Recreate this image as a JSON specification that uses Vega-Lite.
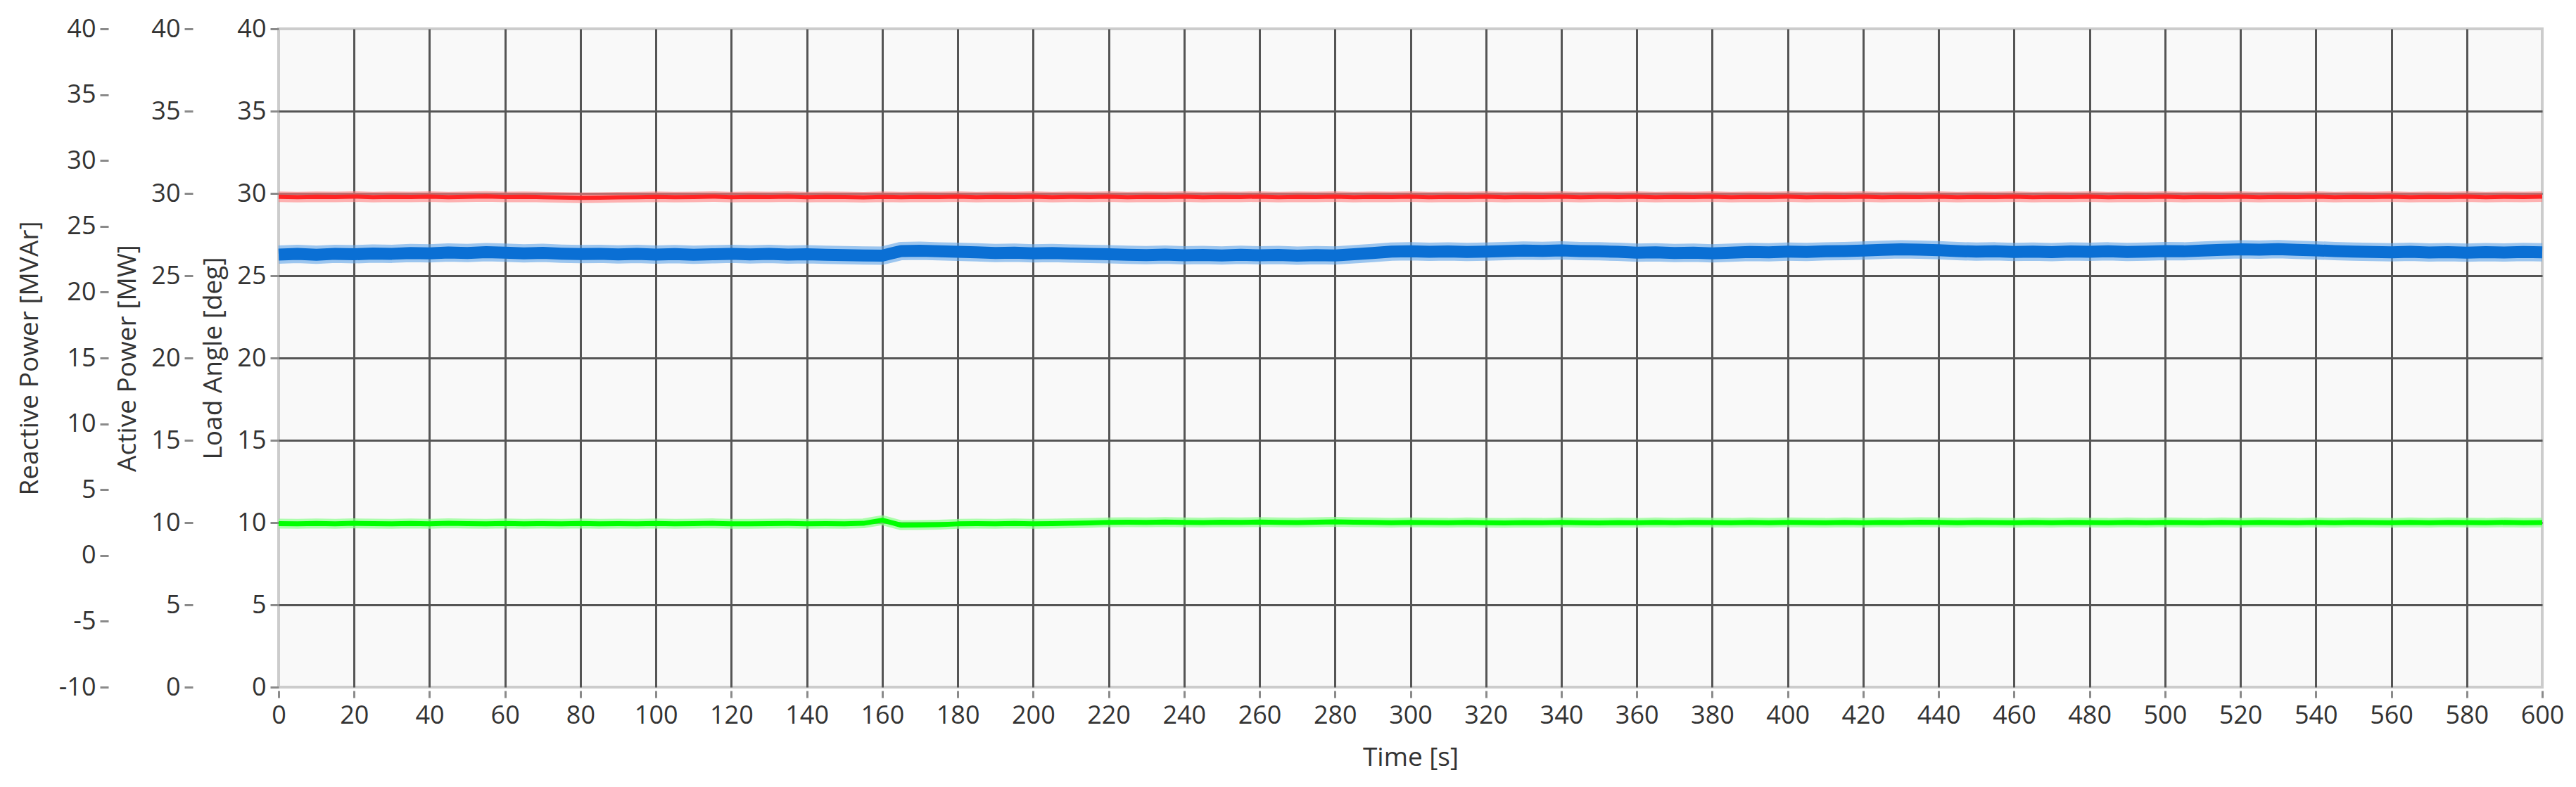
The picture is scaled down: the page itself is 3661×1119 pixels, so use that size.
{
  "$schema": "https://vega.github.io/schema/vega-lite/v6.json",
  "width": 3217,
  "height": 936,
  "autosize": {"type": "none"},
  "padding": {"left": 396, "top": 41, "right": 48, "bottom": 142},
  "background": "white",
  "config": {
    "view": {"fill": "#f9f9f9", "stroke": "#cccccc", "strokeWidth": 4},
    "axis": {
      "labelFont": "Open Sans",
      "titleFont": "Open Sans",
      "labelFontSize": 36,
      "titleFontSize": 37,
      "labelColor": "#333333",
      "titleColor": "#333333",
      "titleFontWeight": "normal",
      "tickColor": "#8a8a8a",
      "tickWidth": 3,
      "tickSize": 12,
      "domain": false,
      "labelFlush": false,
      "labelOverlap": false,
      "labelExpr": "datum.value + ''"
    },
    "line": {"strokeCap": "butt", "strokeJoin": "round"}
  },
  "data": {
    "values": [
      {"t": 0, "angle": 29.80, "active": 26.28, "reactive": 2.42},
      {"t": 5, "angle": 29.78, "active": 26.32, "reactive": 2.40},
      {"t": 10, "angle": 29.80, "active": 26.27, "reactive": 2.43},
      {"t": 15, "angle": 29.79, "active": 26.33, "reactive": 2.41},
      {"t": 20, "angle": 29.81, "active": 26.30, "reactive": 2.44},
      {"t": 25, "angle": 29.78, "active": 26.35, "reactive": 2.42},
      {"t": 30, "angle": 29.80, "active": 26.33, "reactive": 2.40},
      {"t": 35, "angle": 29.79, "active": 26.38, "reactive": 2.43},
      {"t": 40, "angle": 29.81, "active": 26.36, "reactive": 2.41},
      {"t": 45, "angle": 29.78, "active": 26.41, "reactive": 2.44},
      {"t": 50, "angle": 29.80, "active": 26.38, "reactive": 2.42},
      {"t": 55, "angle": 29.82, "active": 26.43, "reactive": 2.40},
      {"t": 60, "angle": 29.79, "active": 26.40, "reactive": 2.43},
      {"t": 65, "angle": 29.80, "active": 26.36, "reactive": 2.41},
      {"t": 70, "angle": 29.78, "active": 26.39, "reactive": 2.42},
      {"t": 75, "angle": 29.75, "active": 26.34, "reactive": 2.40},
      {"t": 80, "angle": 29.73, "active": 26.31, "reactive": 2.43},
      {"t": 85, "angle": 29.74, "active": 26.33, "reactive": 2.41},
      {"t": 90, "angle": 29.77, "active": 26.29, "reactive": 2.42},
      {"t": 95, "angle": 29.78, "active": 26.32, "reactive": 2.40},
      {"t": 100, "angle": 29.80, "active": 26.28, "reactive": 2.43},
      {"t": 105, "angle": 29.78, "active": 26.31, "reactive": 2.41},
      {"t": 110, "angle": 29.79, "active": 26.27, "reactive": 2.42},
      {"t": 115, "angle": 29.81, "active": 26.30, "reactive": 2.44},
      {"t": 120, "angle": 29.78, "active": 26.33, "reactive": 2.41},
      {"t": 125, "angle": 29.80, "active": 26.29, "reactive": 2.40},
      {"t": 130, "angle": 29.79, "active": 26.32, "reactive": 2.42},
      {"t": 135, "angle": 29.81, "active": 26.28, "reactive": 2.43},
      {"t": 140, "angle": 29.78, "active": 26.30, "reactive": 2.41},
      {"t": 145, "angle": 29.80, "active": 26.27, "reactive": 2.42},
      {"t": 150, "angle": 29.79, "active": 26.25, "reactive": 2.40},
      {"t": 155, "angle": 29.77, "active": 26.23, "reactive": 2.44},
      {"t": 160, "angle": 29.80, "active": 26.22, "reactive": 2.68},
      {"t": 165, "angle": 29.78, "active": 26.50, "reactive": 2.30},
      {"t": 170, "angle": 29.80, "active": 26.52, "reactive": 2.31},
      {"t": 175, "angle": 29.79, "active": 26.48, "reactive": 2.34},
      {"t": 180, "angle": 29.81, "active": 26.45, "reactive": 2.40},
      {"t": 185, "angle": 29.78, "active": 26.42, "reactive": 2.42},
      {"t": 190, "angle": 29.80, "active": 26.38, "reactive": 2.41},
      {"t": 195, "angle": 29.79, "active": 26.40, "reactive": 2.43},
      {"t": 200, "angle": 29.81, "active": 26.36, "reactive": 2.40},
      {"t": 205, "angle": 29.78, "active": 26.38, "reactive": 2.42},
      {"t": 210, "angle": 29.80, "active": 26.35, "reactive": 2.44},
      {"t": 215, "angle": 29.79, "active": 26.33, "reactive": 2.47},
      {"t": 220, "angle": 29.81, "active": 26.30, "reactive": 2.52},
      {"t": 225, "angle": 29.78, "active": 26.27, "reactive": 2.53},
      {"t": 230, "angle": 29.80, "active": 26.25, "reactive": 2.51},
      {"t": 235, "angle": 29.79, "active": 26.28, "reactive": 2.54},
      {"t": 240, "angle": 29.81, "active": 26.24, "reactive": 2.52},
      {"t": 245, "angle": 29.78, "active": 26.26, "reactive": 2.50},
      {"t": 250, "angle": 29.80, "active": 26.23, "reactive": 2.53},
      {"t": 255, "angle": 29.79, "active": 26.27, "reactive": 2.51},
      {"t": 260, "angle": 29.81, "active": 26.24, "reactive": 2.54},
      {"t": 265, "angle": 29.78, "active": 26.26, "reactive": 2.52},
      {"t": 270, "angle": 29.80, "active": 26.22, "reactive": 2.50},
      {"t": 275, "angle": 29.79, "active": 26.25, "reactive": 2.53},
      {"t": 280, "angle": 29.81, "active": 26.23, "reactive": 2.56},
      {"t": 285, "angle": 29.78, "active": 26.30, "reactive": 2.53},
      {"t": 290, "angle": 29.80, "active": 26.38, "reactive": 2.51},
      {"t": 295, "angle": 29.79, "active": 26.46, "reactive": 2.49},
      {"t": 300, "angle": 29.81, "active": 26.48, "reactive": 2.52},
      {"t": 305, "angle": 29.78, "active": 26.45, "reactive": 2.50},
      {"t": 310, "angle": 29.80, "active": 26.47, "reactive": 2.48},
      {"t": 315, "angle": 29.79, "active": 26.44, "reactive": 2.51},
      {"t": 320, "angle": 29.81, "active": 26.46, "reactive": 2.49},
      {"t": 325, "angle": 29.78, "active": 26.50, "reactive": 2.47},
      {"t": 330, "angle": 29.80, "active": 26.53, "reactive": 2.50},
      {"t": 335, "angle": 29.79, "active": 26.51, "reactive": 2.48},
      {"t": 340, "angle": 29.81, "active": 26.54, "reactive": 2.51},
      {"t": 345, "angle": 29.78, "active": 26.50, "reactive": 2.49},
      {"t": 350, "angle": 29.80, "active": 26.48, "reactive": 2.47},
      {"t": 355, "angle": 29.79, "active": 26.45, "reactive": 2.50},
      {"t": 360, "angle": 29.81, "active": 26.40, "reactive": 2.48},
      {"t": 365, "angle": 29.78, "active": 26.42, "reactive": 2.51},
      {"t": 370, "angle": 29.80, "active": 26.38, "reactive": 2.49},
      {"t": 375, "angle": 29.79, "active": 26.40, "reactive": 2.52},
      {"t": 380, "angle": 29.81, "active": 26.36, "reactive": 2.50},
      {"t": 385, "angle": 29.78, "active": 26.40, "reactive": 2.48},
      {"t": 390, "angle": 29.80, "active": 26.44, "reactive": 2.51},
      {"t": 395, "angle": 29.79, "active": 26.42, "reactive": 2.49},
      {"t": 400, "angle": 29.81, "active": 26.46, "reactive": 2.52},
      {"t": 405, "angle": 29.78, "active": 26.44, "reactive": 2.50},
      {"t": 410, "angle": 29.80, "active": 26.48, "reactive": 2.48},
      {"t": 415, "angle": 29.79, "active": 26.50, "reactive": 2.51},
      {"t": 420, "angle": 29.81, "active": 26.53, "reactive": 2.49},
      {"t": 425, "angle": 29.78, "active": 26.57, "reactive": 2.52},
      {"t": 430, "angle": 29.80, "active": 26.60, "reactive": 2.50},
      {"t": 435, "angle": 29.79, "active": 26.58, "reactive": 2.53},
      {"t": 440, "angle": 29.81, "active": 26.55, "reactive": 2.51},
      {"t": 445, "angle": 29.78, "active": 26.50, "reactive": 2.49},
      {"t": 450, "angle": 29.80, "active": 26.46, "reactive": 2.52},
      {"t": 455, "angle": 29.79, "active": 26.48, "reactive": 2.50},
      {"t": 460, "angle": 29.81, "active": 26.44, "reactive": 2.48},
      {"t": 465, "angle": 29.78, "active": 26.46, "reactive": 2.51},
      {"t": 470, "angle": 29.80, "active": 26.43, "reactive": 2.49},
      {"t": 475, "angle": 29.79, "active": 26.47, "reactive": 2.52},
      {"t": 480, "angle": 29.81, "active": 26.45, "reactive": 2.50},
      {"t": 485, "angle": 29.78, "active": 26.48, "reactive": 2.48},
      {"t": 490, "angle": 29.80, "active": 26.44, "reactive": 2.51},
      {"t": 495, "angle": 29.79, "active": 26.46, "reactive": 2.49},
      {"t": 500, "angle": 29.81, "active": 26.50, "reactive": 2.52},
      {"t": 505, "angle": 29.78, "active": 26.48, "reactive": 2.50},
      {"t": 510, "angle": 29.80, "active": 26.53, "reactive": 2.48},
      {"t": 515, "angle": 29.79, "active": 26.57, "reactive": 2.51},
      {"t": 520, "angle": 29.81, "active": 26.60, "reactive": 2.49},
      {"t": 525, "angle": 29.78, "active": 26.58, "reactive": 2.52},
      {"t": 530, "angle": 29.80, "active": 26.61, "reactive": 2.50},
      {"t": 535, "angle": 29.79, "active": 26.57, "reactive": 2.48},
      {"t": 540, "angle": 29.81, "active": 26.54, "reactive": 2.51},
      {"t": 545, "angle": 29.78, "active": 26.50, "reactive": 2.49},
      {"t": 550, "angle": 29.80, "active": 26.46, "reactive": 2.52},
      {"t": 555, "angle": 29.79, "active": 26.44, "reactive": 2.50},
      {"t": 560, "angle": 29.81, "active": 26.42, "reactive": 2.48},
      {"t": 565, "angle": 29.78, "active": 26.45, "reactive": 2.51},
      {"t": 570, "angle": 29.80, "active": 26.41, "reactive": 2.49},
      {"t": 575, "angle": 29.79, "active": 26.43, "reactive": 2.52},
      {"t": 580, "angle": 29.81, "active": 26.40, "reactive": 2.50},
      {"t": 585, "angle": 29.78, "active": 26.43, "reactive": 2.48},
      {"t": 590, "angle": 29.80, "active": 26.41, "reactive": 2.51},
      {"t": 595, "angle": 29.79, "active": 26.44, "reactive": 2.49},
      {"t": 600, "angle": 29.81, "active": 26.42, "reactive": 2.50}
    ]
  },
  "encoding": {
    "x": {
      "field": "t",
      "type": "quantitative",
      "scale": {"domain": [0, 600], "nice": false, "zero": false},
      "axis": {
        "title": "Time [s]",
        "values": [0, 20, 40, 60, 80, 100, 120, 140, 160, 180, 200, 220, 240, 260, 280, 300, 320, 340, 360, 380, 400, 420, 440, 460, 480, 500, 520, 540, 560, 580, 600],
        "offset": 5,
        "tickSize": 10,
        "labelPadding": 8,
        "titlePadding": 24,
        "grid": true,
        "gridColor": "#555555",
        "gridWidth": 3,
        "gridOpacity": {"condition": {"test": "datum.value === 0 || datum.value === 600", "value": 0}, "value": 1}
      }
    }
  },
  "layer": [
    {
      "encoding": {
        "y": {
          "field": "reactive",
          "type": "quantitative",
          "scale": {"domain": [-10, 40], "nice": false, "zero": false},
          "axis": {
            "title": "Reactive Power [MVAr]",
            "orient": "left",
            "offset": 242,
            "values": [-10, -5, 0, 5, 10, 15, 20, 25, 30, 35, 40],
            "labelPadding": 6,
            "titlePadding": 22,
            "grid": false
          }
        }
      },
      "layer": [
        {"mark": {"type": "line", "color": "#8cff8c", "strokeWidth": 14, "opacity": 0.7}},
        {"mark": {"type": "line", "color": "#00ff00", "strokeWidth": 7}}
      ]
    },
    {
      "encoding": {
        "y": {
          "field": "active",
          "type": "quantitative",
          "scale": {"domain": [0, 40], "nice": false, "zero": false},
          "axis": {
            "title": "Active Power [MW]",
            "orient": "left",
            "offset": 122,
            "values": [0, 5, 10, 15, 20, 25, 30, 35, 40],
            "labelPadding": 6,
            "titlePadding": 14,
            "grid": false
          }
        }
      },
      "layer": [
        {"mark": {"type": "line", "color": "#5fa3e8", "strokeWidth": 26, "opacity": 0.6}},
        {"mark": {"type": "line", "color": "#0a6fd4", "strokeWidth": 17}}
      ]
    },
    {
      "encoding": {
        "y": {
          "field": "angle",
          "type": "quantitative",
          "scale": {"domain": [0, 40], "nice": false, "zero": false},
          "axis": {
            "title": "Load Angle [deg]",
            "orient": "left",
            "offset": 0,
            "values": [0, 5, 10, 15, 20, 25, 30, 35, 40],
            "labelPadding": 6,
            "titlePadding": 14,
            "grid": true,
            "gridColor": "#555555",
            "gridWidth": 3,
            "gridOpacity": {"condition": {"test": "datum.value === 0 || datum.value === 40", "value": 0}, "value": 1}
          }
        }
      },
      "layer": [
        {"mark": {"type": "line", "color": "#ff8080", "strokeWidth": 15, "opacity": 0.6}},
        {"mark": {"type": "line", "color": "#ff2424", "strokeWidth": 6}}
      ]
    }
  ],
  "resolve": {"scale": {"y": "independent"}}
}
